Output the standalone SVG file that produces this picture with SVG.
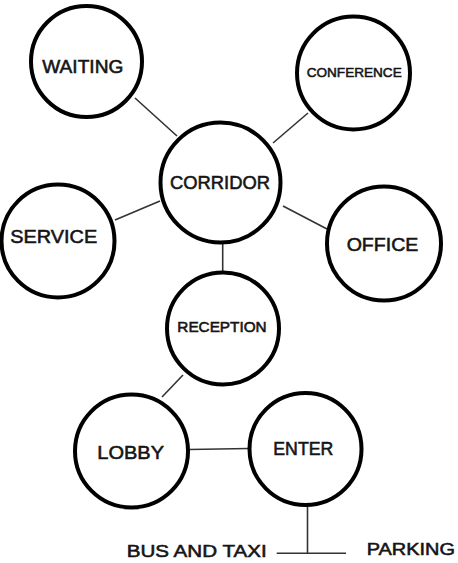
<svg xmlns="http://www.w3.org/2000/svg" width="458" height="563" viewBox="0 0 458 563">
  <style>
    .node circle { fill: #ffffff; stroke: #000000; stroke-width: 4; }
    .node text, .label { font-family: "Liberation Sans", Arial, Helvetica, sans-serif; fill: #151515; stroke: #151515; stroke-width: 0.55; text-anchor: middle; }
    .edge { stroke: #333333; stroke-width: 1.6; fill: none; }
  </style>
  <rect width="458" height="563" fill="#ffffff"/>
  <g id="connectors">
    <line class="edge" x1="135" y1="98" x2="177" y2="136"/>
    <line class="edge" x1="308" y1="113" x2="273" y2="143"/>
    <line class="edge" x1="115" y1="220" x2="160" y2="201"/>
    <line class="edge" x1="283" y1="206" x2="327" y2="229"/>
    <line class="edge" x1="222.7" y1="244" x2="222.7" y2="272"/>
    <line class="edge" x1="183" y1="375" x2="162" y2="397"/>
    <line class="edge" x1="189" y1="449.5" x2="249" y2="448.5"/>
    <line class="edge" x1="307.5" y1="506" x2="307.5" y2="553.3"/>
    <line class="edge" x1="276.7" y1="553.3" x2="346" y2="553.3"/>
  </g>
  <g id="waiting" class="node">
    <circle cx="86.5" cy="61.5" r="55.5"/>
    <text x="82.8" y="73.3" font-size="17.5" textLength="81" lengthAdjust="spacingAndGlyphs">WAITING</text>
  </g>
  <g id="conference" class="node">
    <circle cx="353.5" cy="73" r="56.5"/>
    <text x="354.2" y="77.4" font-size="13.5" textLength="95" lengthAdjust="spacingAndGlyphs">CONFERENCE</text>
  </g>
  <g id="corridor" class="node">
    <circle cx="220.5" cy="182.5" r="60"/>
    <text x="220" y="189.3" font-size="18" textLength="100" lengthAdjust="spacingAndGlyphs">CORRIDOR</text>
  </g>
  <g id="service" class="node">
    <circle cx="58" cy="241" r="56.5"/>
    <text x="53.7" y="242.7" font-size="18.5" textLength="87" lengthAdjust="spacingAndGlyphs">SERVICE</text>
  </g>
  <g id="office" class="node">
    <circle cx="384" cy="243.5" r="57"/>
    <text x="382.5" y="250.7" font-size="18.5" textLength="71.7" lengthAdjust="spacingAndGlyphs">OFFICE</text>
  </g>
  <g id="reception" class="node">
    <circle cx="223" cy="328.5" r="56"/>
    <text x="222" y="332.4" font-size="14" textLength="89.3" lengthAdjust="spacingAndGlyphs">RECEPTION</text>
  </g>
  <g id="lobby" class="node">
    <circle cx="131.5" cy="451" r="56.5"/>
    <text x="130.7" y="458.7" font-size="18.5" textLength="66.7" lengthAdjust="spacingAndGlyphs">LOBBY</text>
  </g>
  <g id="enter" class="node">
    <circle cx="305.5" cy="449" r="56"/>
    <text x="303.3" y="455" font-size="17.5" textLength="60" lengthAdjust="spacingAndGlyphs">ENTER</text>
  </g>
  <g id="bus-and-taxi">
    <text class="label" x="196.7" y="557.3" font-size="17" textLength="140" lengthAdjust="spacingAndGlyphs">BUS AND TAXI</text>
  </g>
  <g id="parking">
    <text class="label" x="410.8" y="555" font-size="17" textLength="88.3" lengthAdjust="spacingAndGlyphs">PARKING</text>
  </g>
</svg>
